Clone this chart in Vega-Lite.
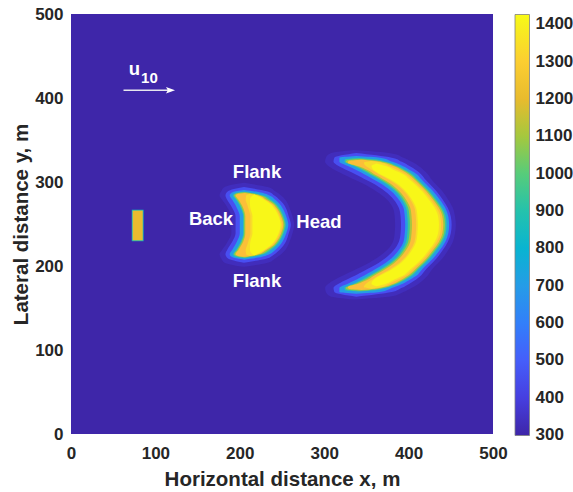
{
"$schema": "https://vega.github.io/schema/vega-lite/v6.json",
"width": 422, "height": 420,
"autosize": {"type": "none"},
"padding": {"left": 71, "top": 14, "right": 80, "bottom": 58},
"background": "white",
"config": {"view": {"stroke": null}, "font": "Liberation Sans"},
"datasets": {
"base": [
{"x0":0,"x1":500,"y0":0,"y1":500,"t":300},
{"x0":72,"x1":86,"y0":229.5,"y1":267,"t":850},
{"x0":73,"x1":85,"y0":230.5,"y1":266,"t":1205}
],
"fire": [
{"s":"c2","t":330,"y":160,"x0":335,"x1":335},{"s":"c2","t":330,"y":164,"x0":307,"x1":380},{"s":"c2","t":330,"y":169,"x0":302,"x1":394},{"s":"c2","t":330,"y":174,"x0":301,"x1":404},{"s":"c2","t":330,"y":179,"x0":305,"x1":412},{"s":"c2","t":330,"y":184,"x0":313,"x1":418},{"s":"c2","t":330,"y":189,"x0":323,"x1":423},{"s":"c2","t":330,"y":194,"x0":333.5,"x1":426.5},{"s":"c2","t":330,"y":199,"x0":344,"x1":430.5},{"s":"c2","t":330,"y":209,"x0":361.5,"x1":440},{"s":"c2","t":330,"y":219,"x0":374.5,"x1":447},{"s":"c2","t":330,"y":229,"x0":381.5,"x1":452.5},{"s":"c2","t":330,"y":239,"x0":383.5,"x1":455},{"s":"c2","t":330,"y":249,"x0":384,"x1":456},{"s":"c2","t":330,"y":259,"x0":383.5,"x1":455},{"s":"c2","t":330,"y":269,"x0":381.5,"x1":452.5},{"s":"c2","t":330,"y":279,"x0":374.5,"x1":447},{"s":"c2","t":330,"y":289,"x0":361.5,"x1":440},{"s":"c2","t":330,"y":299,"x0":344,"x1":430.5},{"s":"c2","t":330,"y":304,"x0":333.5,"x1":426.5},{"s":"c2","t":330,"y":309,"x0":323,"x1":423},{"s":"c2","t":330,"y":314,"x0":313,"x1":418},{"s":"c2","t":330,"y":319,"x0":305,"x1":412},{"s":"c2","t":330,"y":324,"x0":301,"x1":404},{"s":"c2","t":330,"y":329,"x0":302,"x1":394},{"s":"c2","t":330,"y":334,"x0":307,"x1":380},{"s":"c2","t":330,"y":338,"x0":335,"x1":335},
{"s":"c1","t":330,"y":199,"x0":205,"x1":205},{"s":"c1","t":330,"y":204,"x0":182,"x1":233},{"s":"c1","t":330,"y":209,"x0":178,"x1":242},{"s":"c1","t":330,"y":214,"x0":176,"x1":249},{"s":"c1","t":330,"y":219,"x0":179,"x1":254},{"s":"c1","t":330,"y":224,"x0":182.5,"x1":257},{"s":"c1","t":330,"y":229,"x0":185.5,"x1":259},{"s":"c1","t":330,"y":239,"x0":190,"x1":262.5},{"s":"c1","t":330,"y":249,"x0":190,"x1":264.5},{"s":"c1","t":330,"y":259,"x0":190,"x1":262.5},{"s":"c1","t":330,"y":269,"x0":185.5,"x1":259},{"s":"c1","t":330,"y":274,"x0":182.5,"x1":257},{"s":"c1","t":330,"y":279,"x0":179,"x1":254},{"s":"c1","t":330,"y":284,"x0":176,"x1":249},{"s":"c1","t":330,"y":289,"x0":178,"x1":242},{"s":"c1","t":330,"y":294,"x0":182,"x1":233},{"s":"c1","t":330,"y":299,"x0":205,"x1":205},

{"s":"c2","t":450,"y":163.5,"x0":338,"x1":338},{"s":"c2","t":450,"y":169,"x0":312,"x1":380},{"s":"c2","t":450,"y":174,"x0":311,"x1":392},{"s":"c2","t":450,"y":179,"x0":317,"x1":401},{"s":"c2","t":450,"y":184,"x0":327,"x1":409},{"s":"c2","t":450,"y":189,"x0":337.5,"x1":415},{"s":"c2","t":450,"y":194,"x0":347,"x1":419},{"s":"c2","t":450,"y":199,"x0":356.5,"x1":423.5},{"s":"c2","t":450,"y":209,"x0":372,"x1":433},{"s":"c2","t":450,"y":219,"x0":382.5,"x1":440.5},{"s":"c2","t":450,"y":229,"x0":388.5,"x1":446.5},{"s":"c2","t":450,"y":239,"x0":390.5,"x1":450},{"s":"c2","t":450,"y":249,"x0":391,"x1":451},{"s":"c2","t":450,"y":259,"x0":390.5,"x1":450},{"s":"c2","t":450,"y":269,"x0":388.5,"x1":446.5},{"s":"c2","t":450,"y":279,"x0":382.5,"x1":440.5},{"s":"c2","t":450,"y":289,"x0":372,"x1":433},{"s":"c2","t":450,"y":299,"x0":356.5,"x1":423.5},{"s":"c2","t":450,"y":304,"x0":347,"x1":419},{"s":"c2","t":450,"y":309,"x0":337.5,"x1":415},{"s":"c2","t":450,"y":314,"x0":327,"x1":409},{"s":"c2","t":450,"y":319,"x0":317,"x1":401},{"s":"c2","t":450,"y":324,"x0":311,"x1":392},{"s":"c2","t":450,"y":329,"x0":312,"x1":380},{"s":"c2","t":450,"y":334.5,"x0":338,"x1":338},
{"s":"c1","t":450,"y":204,"x0":205,"x1":205},{"s":"c1","t":450,"y":209,"x0":186,"x1":232},{"s":"c1","t":450,"y":214,"x0":183,"x1":241},{"s":"c1","t":450,"y":219,"x0":185,"x1":247},{"s":"c1","t":450,"y":224,"x0":188,"x1":251.5},{"s":"c1","t":450,"y":229,"x0":191,"x1":254.5},{"s":"c1","t":450,"y":239,"x0":195,"x1":258},{"s":"c1","t":450,"y":249,"x0":195,"x1":260.5},{"s":"c1","t":450,"y":259,"x0":195,"x1":258},{"s":"c1","t":450,"y":269,"x0":191,"x1":254.5},{"s":"c1","t":450,"y":274,"x0":188,"x1":251.5},{"s":"c1","t":450,"y":279,"x0":185,"x1":247},{"s":"c1","t":450,"y":284,"x0":183,"x1":241},{"s":"c1","t":450,"y":289,"x0":186,"x1":232},{"s":"c1","t":450,"y":294,"x0":205,"x1":205},

{"s":"c2","t":700,"y":167,"x0":338,"x1":338},{"s":"c2","t":700,"y":169,"x0":318,"x1":366},{"s":"c2","t":700,"y":174,"x0":318,"x1":381},{"s":"c2","t":700,"y":179,"x0":328,"x1":393},{"s":"c2","t":700,"y":184,"x0":338.5,"x1":402},{"s":"c2","t":700,"y":189,"x0":348,"x1":410},{"s":"c2","t":700,"y":194,"x0":357,"x1":414.5},{"s":"c2","t":700,"y":199,"x0":365.5,"x1":419},{"s":"c2","t":700,"y":209,"x0":379.5,"x1":429},{"s":"c2","t":700,"y":219,"x0":388.5,"x1":437},{"s":"c2","t":700,"y":229,"x0":394,"x1":443.5},{"s":"c2","t":700,"y":239,"x0":395.5,"x1":447},{"s":"c2","t":700,"y":249,"x0":396,"x1":448},{"s":"c2","t":700,"y":259,"x0":395.5,"x1":447},{"s":"c2","t":700,"y":269,"x0":394,"x1":443.5},{"s":"c2","t":700,"y":279,"x0":388.5,"x1":437},{"s":"c2","t":700,"y":289,"x0":379.5,"x1":429},{"s":"c2","t":700,"y":299,"x0":365.5,"x1":419},{"s":"c2","t":700,"y":304,"x0":357,"x1":414.5},{"s":"c2","t":700,"y":309,"x0":348,"x1":410},{"s":"c2","t":700,"y":314,"x0":338.5,"x1":402},{"s":"c2","t":700,"y":319,"x0":328,"x1":393},{"s":"c2","t":700,"y":324,"x0":318,"x1":381},{"s":"c2","t":700,"y":329,"x0":318,"x1":366},{"s":"c2","t":700,"y":331,"x0":338,"x1":338},
{"s":"c1","t":700,"y":207.5,"x0":205,"x1":205},{"s":"c1","t":700,"y":210,"x0":192,"x1":222},{"s":"c1","t":700,"y":214,"x0":188,"x1":235},{"s":"c1","t":700,"y":219,"x0":191,"x1":242},{"s":"c1","t":700,"y":224,"x0":194,"x1":247},{"s":"c1","t":700,"y":229,"x0":196.5,"x1":250.5},{"s":"c1","t":700,"y":239,"x0":200,"x1":255},{"s":"c1","t":700,"y":249,"x0":200,"x1":257.5},{"s":"c1","t":700,"y":259,"x0":200,"x1":255},{"s":"c1","t":700,"y":269,"x0":196.5,"x1":250.5},{"s":"c1","t":700,"y":274,"x0":194,"x1":247},{"s":"c1","t":700,"y":279,"x0":191,"x1":242},{"s":"c1","t":700,"y":284,"x0":188,"x1":235},{"s":"c1","t":700,"y":288,"x0":192,"x1":222},{"s":"c1","t":700,"y":290.5,"x0":205,"x1":205},

{"s":"c2","t":950,"y":169.5,"x0":340,"x1":340},{"s":"c2","t":950,"y":171,"x0":325,"x1":360},{"s":"c2","t":950,"y":174,"x0":324,"x1":373},{"s":"c2","t":950,"y":179,"x0":335,"x1":387},{"s":"c2","t":950,"y":184,"x0":345,"x1":397},{"s":"c2","t":950,"y":189,"x0":354,"x1":405},{"s":"c2","t":950,"y":194,"x0":363,"x1":410},{"s":"c2","t":950,"y":199,"x0":371,"x1":415},{"s":"c2","t":950,"y":209,"x0":384,"x1":425},{"s":"c2","t":950,"y":219,"x0":392,"x1":433},{"s":"c2","t":950,"y":229,"x0":397,"x1":440},{"s":"c2","t":950,"y":239,"x0":398.5,"x1":444},{"s":"c2","t":950,"y":249,"x0":399,"x1":445},{"s":"c2","t":950,"y":259,"x0":398.5,"x1":444},{"s":"c2","t":950,"y":269,"x0":397,"x1":440},{"s":"c2","t":950,"y":279,"x0":392,"x1":433},{"s":"c2","t":950,"y":289,"x0":384,"x1":425},{"s":"c2","t":950,"y":299,"x0":371,"x1":415},{"s":"c2","t":950,"y":304,"x0":363,"x1":410},{"s":"c2","t":950,"y":309,"x0":354,"x1":405},{"s":"c2","t":950,"y":314,"x0":345,"x1":397},{"s":"c2","t":950,"y":319,"x0":335,"x1":387},{"s":"c2","t":950,"y":324,"x0":324,"x1":373},{"s":"c2","t":950,"y":327,"x0":325,"x1":360},{"s":"c2","t":950,"y":328.5,"x0":340,"x1":340},
{"s":"c1","t":950,"y":209.5,"x0":205,"x1":205},{"s":"c1","t":950,"y":211,"x0":195,"x1":215},{"s":"c1","t":950,"y":214,"x0":192,"x1":228},{"s":"c1","t":950,"y":219,"x0":195.5,"x1":237},{"s":"c1","t":950,"y":224,"x0":198.5,"x1":243},{"s":"c1","t":950,"y":229,"x0":201,"x1":247},{"s":"c1","t":950,"y":239,"x0":204,"x1":252},{"s":"c1","t":950,"y":249,"x0":204,"x1":254.5},{"s":"c1","t":950,"y":259,"x0":204,"x1":252},{"s":"c1","t":950,"y":269,"x0":201,"x1":247},{"s":"c1","t":950,"y":274,"x0":198.5,"x1":243},{"s":"c1","t":950,"y":279,"x0":195.5,"x1":237},{"s":"c1","t":950,"y":284,"x0":192,"x1":228},{"s":"c1","t":950,"y":287,"x0":195,"x1":215},{"s":"c1","t":950,"y":288.5,"x0":205,"x1":205},

{"s":"c2","t":1100,"y":170.5,"x0":342,"x1":342},{"s":"c2","t":1100,"y":172,"x0":327,"x1":360},{"s":"c2","t":1100,"y":174,"x0":325.5,"x1":370},{"s":"c2","t":1100,"y":179,"x0":337.5,"x1":384.5},{"s":"c2","t":1100,"y":184,"x0":348.5,"x1":394.5},{"s":"c2","t":1100,"y":189,"x0":357,"x1":402.5},{"s":"c2","t":1100,"y":194,"x0":366,"x1":408},{"s":"c2","t":1100,"y":199,"x0":374,"x1":413},{"s":"c2","t":1100,"y":209,"x0":386.5,"x1":423},{"s":"c2","t":1100,"y":219,"x0":394.5,"x1":431},{"s":"c2","t":1100,"y":229,"x0":399.5,"x1":438},{"s":"c2","t":1100,"y":239,"x0":401,"x1":442},{"s":"c2","t":1100,"y":249,"x0":401.5,"x1":443},{"s":"c2","t":1100,"y":259,"x0":401,"x1":442},{"s":"c2","t":1100,"y":269,"x0":399.5,"x1":438},{"s":"c2","t":1100,"y":279,"x0":394.5,"x1":431},{"s":"c2","t":1100,"y":289,"x0":386.5,"x1":423},{"s":"c2","t":1100,"y":299,"x0":374,"x1":413},{"s":"c2","t":1100,"y":304,"x0":366,"x1":408},{"s":"c2","t":1100,"y":309,"x0":357,"x1":402.5},{"s":"c2","t":1100,"y":314,"x0":348.5,"x1":394.5},{"s":"c2","t":1100,"y":319,"x0":337.5,"x1":384.5},{"s":"c2","t":1100,"y":324,"x0":325.5,"x1":370},{"s":"c2","t":1100,"y":326,"x0":327,"x1":360},{"s":"c2","t":1100,"y":327.5,"x0":342,"x1":342},
{"s":"c1","t":1100,"y":210.2,"x0":206,"x1":206},{"s":"c1","t":1100,"y":211.5,"x0":197,"x1":214},{"s":"c1","t":1100,"y":214,"x0":193.5,"x1":225},{"s":"c1","t":1100,"y":219,"x0":197,"x1":234.2},{"s":"c1","t":1100,"y":224,"x0":200,"x1":241},{"s":"c1","t":1100,"y":229,"x0":202.5,"x1":245.2},{"s":"c1","t":1100,"y":239,"x0":205.2,"x1":250.5},{"s":"c1","t":1100,"y":249,"x0":205.2,"x1":253},{"s":"c1","t":1100,"y":259,"x0":205.2,"x1":250.5},{"s":"c1","t":1100,"y":269,"x0":202.5,"x1":245.2},{"s":"c1","t":1100,"y":274,"x0":200,"x1":241},{"s":"c1","t":1100,"y":279,"x0":197,"x1":234.2},{"s":"c1","t":1100,"y":284,"x0":193.5,"x1":225},{"s":"c1","t":1100,"y":286.5,"x0":197,"x1":214},{"s":"c1","t":1100,"y":287.8,"x0":206,"x1":206},

{"s":"c2","t":1250,"y":171.5,"x0":344,"x1":344},{"s":"c2","t":1250,"y":173,"x0":329,"x1":360},{"s":"c2","t":1250,"y":175,"x0":328,"x1":370},{"s":"c2","t":1250,"y":179,"x0":340,"x1":382},{"s":"c2","t":1250,"y":184,"x0":352,"x1":392},{"s":"c2","t":1250,"y":189,"x0":360,"x1":400},{"s":"c2","t":1250,"y":194,"x0":369,"x1":406},{"s":"c2","t":1250,"y":199,"x0":377,"x1":411},{"s":"c2","t":1250,"y":209,"x0":389,"x1":421},{"s":"c2","t":1250,"y":219,"x0":397,"x1":429},{"s":"c2","t":1250,"y":229,"x0":402,"x1":436},{"s":"c2","t":1250,"y":239,"x0":403.5,"x1":440},{"s":"c2","t":1250,"y":249,"x0":404,"x1":441},{"s":"c2","t":1250,"y":259,"x0":403.5,"x1":440},{"s":"c2","t":1250,"y":269,"x0":402,"x1":436},{"s":"c2","t":1250,"y":279,"x0":397,"x1":429},{"s":"c2","t":1250,"y":289,"x0":389,"x1":421},{"s":"c2","t":1250,"y":299,"x0":377,"x1":411},{"s":"c2","t":1250,"y":304,"x0":369,"x1":406},{"s":"c2","t":1250,"y":309,"x0":360,"x1":400},{"s":"c2","t":1250,"y":314,"x0":352,"x1":392},{"s":"c2","t":1250,"y":319,"x0":340,"x1":382},{"s":"c2","t":1250,"y":323,"x0":328,"x1":370},{"s":"c2","t":1250,"y":325,"x0":329,"x1":360},{"s":"c2","t":1250,"y":326.5,"x0":344,"x1":344},
{"s":"c1","t":1250,"y":211,"x0":206,"x1":206},{"s":"c1","t":1250,"y":212,"x0":198,"x1":212},{"s":"c1","t":1250,"y":214,"x0":195,"x1":222},{"s":"c1","t":1250,"y":219,"x0":198.5,"x1":231.5},{"s":"c1","t":1250,"y":224,"x0":201.5,"x1":239},{"s":"c1","t":1250,"y":229,"x0":204,"x1":243.5},{"s":"c1","t":1250,"y":239,"x0":206.5,"x1":249},{"s":"c1","t":1250,"y":249,"x0":206.5,"x1":251.5},{"s":"c1","t":1250,"y":259,"x0":206.5,"x1":249},{"s":"c1","t":1250,"y":269,"x0":204,"x1":243.5},{"s":"c1","t":1250,"y":274,"x0":201.5,"x1":239},{"s":"c1","t":1250,"y":279,"x0":198.5,"x1":231.5},{"s":"c1","t":1250,"y":284,"x0":195,"x1":222},{"s":"c1","t":1250,"y":286,"x0":198,"x1":212},{"s":"c1","t":1250,"y":287,"x0":206,"x1":206},

{"s":"c2","t":1340,"y":173,"x0":356,"x1":356},{"s":"c2","t":1340,"y":175,"x0":347,"x1":368},{"s":"c2","t":1340,"y":179,"x0":349.5,"x1":377},{"s":"c2","t":1340,"y":184,"x0":357,"x1":387.5},{"s":"c2","t":1340,"y":189,"x0":365,"x1":397},{"s":"c2","t":1340,"y":194,"x0":374.5,"x1":403},{"s":"c2","t":1340,"y":199,"x0":382.5,"x1":408},{"s":"c2","t":1340,"y":209,"x0":394.5,"x1":418.5},{"s":"c2","t":1340,"y":219,"x0":402,"x1":426.5},{"s":"c2","t":1340,"y":229,"x0":407,"x1":433.5},{"s":"c2","t":1340,"y":239,"x0":408.5,"x1":437.5},{"s":"c2","t":1340,"y":249,"x0":409,"x1":438.5},{"s":"c2","t":1340,"y":259,"x0":408.5,"x1":437.5},{"s":"c2","t":1340,"y":269,"x0":407,"x1":433.5},{"s":"c2","t":1340,"y":279,"x0":402,"x1":426.5},{"s":"c2","t":1340,"y":289,"x0":394.5,"x1":418.5},{"s":"c2","t":1340,"y":299,"x0":382.5,"x1":408},{"s":"c2","t":1340,"y":304,"x0":374.5,"x1":403},{"s":"c2","t":1340,"y":309,"x0":365,"x1":397},{"s":"c2","t":1340,"y":314,"x0":357,"x1":387.5},{"s":"c2","t":1340,"y":319,"x0":349.5,"x1":377},{"s":"c2","t":1340,"y":323,"x0":347,"x1":368},{"s":"c2","t":1340,"y":325,"x0":356,"x1":356},
{"s":"c1","t":1340,"y":212,"x0":212,"x1":212},{"s":"c1","t":1340,"y":214,"x0":207.5,"x1":221},{"s":"c1","t":1340,"y":219,"x0":207,"x1":230},{"s":"c1","t":1340,"y":224,"x0":208.5,"x1":237.5},{"s":"c1","t":1340,"y":229,"x0":210,"x1":242},{"s":"c1","t":1340,"y":239,"x0":212.5,"x1":247.5},{"s":"c1","t":1340,"y":249,"x0":212.5,"x1":250},{"s":"c1","t":1340,"y":259,"x0":212.5,"x1":247.5},{"s":"c1","t":1340,"y":269,"x0":210,"x1":242},{"s":"c1","t":1340,"y":274,"x0":208.5,"x1":237.5},{"s":"c1","t":1340,"y":279,"x0":207,"x1":230},{"s":"c1","t":1340,"y":284,"x0":207.5,"x1":221},{"s":"c1","t":1340,"y":286,"x0":212,"x1":212},

{"s":"c2","t":1415,"y":176,"x0":362,"x1":362},{"s":"c2","t":1415,"y":179,"x0":356,"x1":373},{"s":"c2","t":1415,"y":184,"x0":359,"x1":383},{"s":"c2","t":1415,"y":189,"x0":367,"x1":394},{"s":"c2","t":1415,"y":194,"x0":377,"x1":400},{"s":"c2","t":1415,"y":199,"x0":385,"x1":405.5},{"s":"c2","t":1415,"y":209,"x0":396.5,"x1":416},{"s":"c2","t":1415,"y":219,"x0":404,"x1":424},{"s":"c2","t":1415,"y":229,"x0":409,"x1":431},{"s":"c2","t":1415,"y":239,"x0":410.5,"x1":435},{"s":"c2","t":1415,"y":249,"x0":411,"x1":436},{"s":"c2","t":1415,"y":259,"x0":410.5,"x1":435},{"s":"c2","t":1415,"y":269,"x0":409,"x1":431},{"s":"c2","t":1415,"y":279,"x0":404,"x1":424},{"s":"c2","t":1415,"y":289,"x0":396.5,"x1":416},{"s":"c2","t":1415,"y":299,"x0":385,"x1":405.5},{"s":"c2","t":1415,"y":304,"x0":377,"x1":400},{"s":"c2","t":1415,"y":309,"x0":367,"x1":394},{"s":"c2","t":1415,"y":314,"x0":359,"x1":383},{"s":"c2","t":1415,"y":319,"x0":356,"x1":373},{"s":"c2","t":1415,"y":322,"x0":362,"x1":362},
{"s":"c1","t":1415,"y":212.5,"x0":217,"x1":217},{"s":"c1","t":1415,"y":214,"x0":215,"x1":220},{"s":"c1","t":1415,"y":219,"x0":212,"x1":229},{"s":"c1","t":1415,"y":224,"x0":212,"x1":236},{"s":"c1","t":1415,"y":229,"x0":212.5,"x1":240.5},{"s":"c1","t":1415,"y":239,"x0":215,"x1":246},{"s":"c1","t":1415,"y":249,"x0":215,"x1":248.5},{"s":"c1","t":1415,"y":259,"x0":215,"x1":246},{"s":"c1","t":1415,"y":269,"x0":212.5,"x1":240.5},{"s":"c1","t":1415,"y":274,"x0":212,"x1":236},{"s":"c1","t":1415,"y":279,"x0":212,"x1":229},{"s":"c1","t":1415,"y":284,"x0":215,"x1":220},{"s":"c1","t":1415,"y":285.5,"x0":217,"x1":217}
]
},
"layer": [
{
"data": {"name": "base"},
"mark": {"type": "rect", "clip": true},
"encoding": {
"x": {"field": "x0", "type": "quantitative", "scale": {"domain": [0, 500], "nice": false, "zero": false},
 "axis": {"title": "Horizontal distance x, m", "values": [0,100,200,300,400,500], "labelFlush": false, "ticks": false, "domain": false, "grid": false,
  "labelPadding": 11, "labelFontSize": 17, "labelFontWeight": "bold", "labelColor": "#262626", "labelFont": "Liberation Sans",
  "titleFontSize": 20.5, "titleFontWeight": "bold", "titleColor": "#262626", "titleFont": "Liberation Sans", "titlePadding": 8}},
"x2": {"field": "x1"},
"y": {"field": "y0", "type": "quantitative", "scale": {"domain": [0, 500], "nice": false, "zero": false},
 "axis": {"title": "Lateral distance y, m", "values": [0,100,200,300,400,500], "labelFlush": false, "ticks": false, "domain": false, "grid": false,
  "labelPadding": 8, "labelFontSize": 17, "labelFontWeight": "bold", "labelColor": "#262626", "labelFont": "Liberation Sans",
  "titleFontSize": 20.5, "titleFontWeight": "bold", "titleColor": "#262626", "titleFont": "Liberation Sans", "titlePadding": 3}},
"y2": {"field": "y1"},
"color": {"field": "t", "type": "quantitative",
 "scale": {"domain": [299,356.3,412.6,468.9,525.2,581.5,637.8,694.1,750.4,806.7,863,919.3,975.6,1031.9,1088.2,1144.5,1200.8,1257.1,1313.4,1369.7,1426],
  "range": ["#3E26A8","#4433CD","#4742E6","#4854F6","#4367FD","#3579FD","#2D8BF4","#269AE8","#1DA9E0","#06B5CF","#10BEBA","#2EC4A5","#45CB89","#6ECD66","#9DC943","#C5C22A","#E8BB2E","#FEC03B","#FBD32E","#F5E626","#F9FB15"], "interpolate": "rgb"},
 "legend": {"orient": "none", "legendX": 444, "legendY": 0.5, "direction": "vertical", "type": "gradient", "gradientLength": 421, "gradientThickness": 14.5,
  "title": null, "values": [300,400,500,600,700,800,900,1000,1100,1200,1300,1400], "format": "d", "labelFontSize": 17, "labelFontWeight": "bold", "labelFont": "Liberation Sans",
  "labelColor": "#262626", "labelOffset": 6, "labelOverlap": false, "labelBaseline": "middle", "gradientStrokeColor": "#808080", "gradientStrokeWidth": 0.8, "padding": 0}}
}
},
{"data": {"name": "fire"}, "transform": [{"filter": {"field": "t", "equal": 330}}],
 "mark": {"type": "area", "orient": "horizontal", "interpolate": "monotone", "clip": true},
 "encoding": {"y": {"field": "y", "type": "quantitative"}, "x": {"field": "x0", "type": "quantitative", "stack": null}, "x2": {"field": "x1"}, "detail": {"field": "s"},
  "color": {"field": "t", "type": "quantitative", "legend": null}}},
{"data": {"name": "fire"}, "transform": [{"filter": {"field": "t", "equal": 450}}],
 "mark": {"type": "area", "orient": "horizontal", "interpolate": "monotone", "clip": true},
 "encoding": {"y": {"field": "y", "type": "quantitative"}, "x": {"field": "x0", "type": "quantitative", "stack": null}, "x2": {"field": "x1"}, "detail": {"field": "s"},
  "color": {"field": "t", "type": "quantitative", "legend": null}}},
{"data": {"name": "fire"}, "transform": [{"filter": {"field": "t", "equal": 700}}],
 "mark": {"type": "area", "orient": "horizontal", "interpolate": "monotone", "clip": true},
 "encoding": {"y": {"field": "y", "type": "quantitative"}, "x": {"field": "x0", "type": "quantitative", "stack": null}, "x2": {"field": "x1"}, "detail": {"field": "s"},
  "color": {"field": "t", "type": "quantitative", "legend": null}}},
{"data": {"name": "fire"}, "transform": [{"filter": {"field": "t", "equal": 950}}],
 "mark": {"type": "area", "orient": "horizontal", "interpolate": "monotone", "clip": true},
 "encoding": {"y": {"field": "y", "type": "quantitative"}, "x": {"field": "x0", "type": "quantitative", "stack": null}, "x2": {"field": "x1"}, "detail": {"field": "s"},
  "color": {"field": "t", "type": "quantitative", "legend": null}}},
{"data": {"name": "fire"}, "transform": [{"filter": {"field": "t", "equal": 1100}}],
 "mark": {"type": "area", "orient": "horizontal", "interpolate": "monotone", "clip": true},
 "encoding": {"y": {"field": "y", "type": "quantitative"}, "x": {"field": "x0", "type": "quantitative", "stack": null}, "x2": {"field": "x1"}, "detail": {"field": "s"},
  "color": {"field": "t", "type": "quantitative", "legend": null}}},
{"data": {"name": "fire"}, "transform": [{"filter": {"field": "t", "equal": 1250}}],
 "mark": {"type": "area", "orient": "horizontal", "interpolate": "monotone", "clip": true},
 "encoding": {"y": {"field": "y", "type": "quantitative"}, "x": {"field": "x0", "type": "quantitative", "stack": null}, "x2": {"field": "x1"}, "detail": {"field": "s"},
  "color": {"field": "t", "type": "quantitative", "legend": null}}},
{"data": {"name": "fire"}, "transform": [{"filter": {"field": "t", "equal": 1340}}],
 "mark": {"type": "area", "orient": "horizontal", "interpolate": "monotone", "clip": true},
 "encoding": {"y": {"field": "y", "type": "quantitative"}, "x": {"field": "x0", "type": "quantitative", "stack": null}, "x2": {"field": "x1"}, "detail": {"field": "s"},
  "color": {"field": "t", "type": "quantitative", "legend": null}}},
{"data": {"name": "fire"}, "transform": [{"filter": {"field": "t", "equal": 1415}}],
 "mark": {"type": "area", "orient": "horizontal", "interpolate": "monotone", "clip": true},
 "encoding": {"y": {"field": "y", "type": "quantitative"}, "x": {"field": "x0", "type": "quantitative", "stack": null}, "x2": {"field": "x1"}, "detail": {"field": "s"},
  "color": {"field": "t", "type": "quantitative", "legend": null}}},
{
"data": {"values": [
{"x": 220.4, "y": 312.3, "label": "Flank"},
{"x": 165.9, "y": 255.5, "label": "Back"},
{"x": 293.8, "y": 252.7, "label": "Head"},
{"x": 220.4, "y": 182.4, "label": "Flank"}
]},
"mark": {"type": "text", "color": "white", "fontWeight": "bold", "fontSize": 18.5, "font": "Liberation Sans", "align": "center", "baseline": "middle"},
"encoding": {"x": {"field": "x", "type": "quantitative"}, "y": {"field": "y", "type": "quantitative"}, "text": {"field": "label"}}
},
{
"data": {"values": [{"x": 75.2, "y": 434.4, "label": "u"}]},
"mark": {"type": "text", "color": "white", "fontWeight": "bold", "fontSize": 18.5, "font": "Liberation Sans", "align": "center", "baseline": "middle"},
"encoding": {"x": {"field": "x", "type": "quantitative"}, "y": {"field": "y", "type": "quantitative"}, "text": {"field": "label"}}
},
{
"data": {"values": [{"x": 92.9, "y": 423.3, "label": "10"}]},
"mark": {"type": "text", "color": "white", "fontWeight": "bold", "fontSize": 15, "font": "Liberation Sans", "align": "center", "baseline": "middle"},
"encoding": {"x": {"field": "x", "type": "quantitative"}, "y": {"field": "y", "type": "quantitative"}, "text": {"field": "label"}}
},
{
"data": {"values": [{"x": 62.2, "x2": 118, "y": 409.2}]},
"mark": {"type": "rule", "color": "#E6E6EE", "strokeWidth": 1.5},
"encoding": {"x": {"field": "x", "type": "quantitative"}, "x2": {"field": "x2"}, "y": {"field": "y", "type": "quantitative"}}
},
{
"data": {"values": [{"x": 117.9, "y": 409.2}]},
"mark": {"type": "point", "shape": "M1,0L-1,-0.7L-0.6,0L-1,0.7Z", "filled": true, "color": "white", "opacity": 1, "size": 81},
"encoding": {"x": {"field": "x", "type": "quantitative"}, "y": {"field": "y", "type": "quantitative"}}
}
]
}
